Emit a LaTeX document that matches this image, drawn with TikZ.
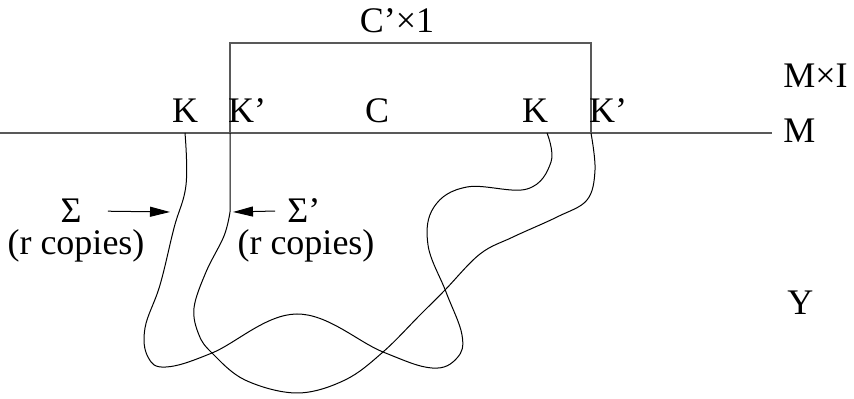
\documentclass[tikz,border=0pt]{standalone}
\usepackage{fontspec}
\setmainfont{Liberation Serif}
\usetikzlibrary{arrows.meta}

\begin{document}
\begin{tikzpicture}[
  x=0.5pt, y=-0.5pt,
  lbl/.style={anchor=base, inner sep=0pt, font=\fontsize{18}{21}\selectfont},
  edge/.style={draw=black!65, line width=0.6pt},
  strand/.style={line width=0.5pt},
  ptr/.style={-{Triangle[length=10pt,width=5pt]}, line width=0.5pt},
]
\useasboundingbox (0,0) rectangle (854,399);

%% the boundary M and the collar C'x1
\coordinate (mleft)  at (0,133);
\coordinate (mright) at (772,133);
\coordinate (kA)  at (185,133);
\coordinate (kpA) at (230,133);
\coordinate (kB)  at (547,133);
\coordinate (kpB) at (591,133);
\draw[edge] (mleft) -- (mright);
\draw[edge] (kpA) -- (230,43) -- (591,43) -- (kpB);

%% labels on M
\node[lbl] (top) at (397,33)  {C’×1};
\node[lbl] (ka)  at (185,123) {K};
\node[lbl] (kpa) at (247,123) {K’};
\node[lbl] (cc)  at (377,123) {C};
\node[lbl] (kb)  at (535,123) {K};
\node[lbl] (kpb) at (608,123) {K’};

%% right margin
\node[lbl, anchor=base west] (mxi) at (783,88)  {M×I};
\node[lbl, anchor=base west] (mm)  at (783,143) {M};
\node[lbl, anchor=base west] (yy)  at (787,315) {Y};

%% surface Sigma (from K)
\draw[strand] plot[smooth, tension=0.65] coordinates {
  (kA) (186,185) (174,228) (160,285) (145,328) (148,357) (166,367)
  (212,353) (297,314) (383,352) (432,368) (457,358) (462,335)
  (446,292) (428,245) (434,207) (467,187) (527,189)
  (551,162) (kB)};

%% surface Sigma' (from K')
\draw[strand] (kpA) -- (230,212) plot[smooth, tension=0.6] coordinates {
  (230,212) (224,236) (206,272) (194,308) (199,335) (212,353)
  (245,380) (297,393) (345,380) (383,352) (420,315) (445,290)
  (480,254) (513,237) (557,217) (587,200) (595,170) (kpB)};

%% pointers
\coordinate (hitl) at (170,212);
\coordinate (hitr) at (233,212);
\node[lbl] (sgl) at (71,223) {Σ};
\node[lbl] (cpl) at (76,255) {(r copies)};
\node[lbl, anchor=base west] (sgr) at (287,223) {Σ’};
\node[lbl] (cpr) at (306,255) {(r copies)};
\draw[ptr] ([xshift=13pt]sgl.east) -- (hitl);
\draw[ptr] ([xshift=-6pt]sgr.west) -- (hitr);
\end{tikzpicture}
\end{document}
